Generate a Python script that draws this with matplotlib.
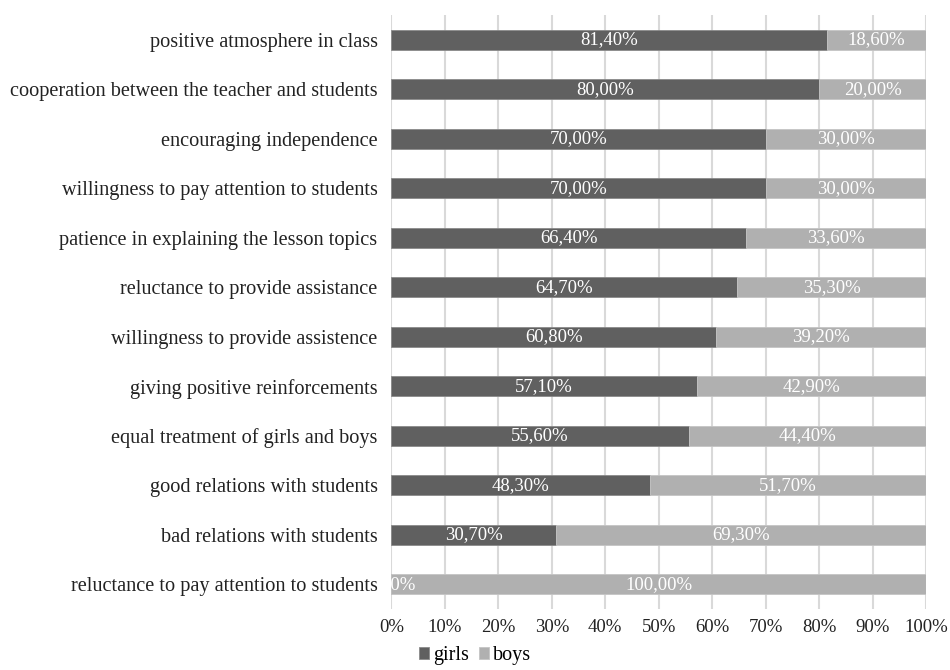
import matplotlib.pyplot as plt
from matplotlib.ticker import FuncFormatter

categories = [
    "positive atmosphere in class",
    "cooperation between the teacher and students",
    "encouraging independence",
    "willingness to pay attention to students",
    "patience in explaining the lesson topics",
    "reluctance to provide assistance",
    "willingness to provide assistence",
    "giving positive reinforcements",
    "equal treatment of girls and boys",
    "good relations with students",
    "bad relations with students",
    "reluctance to pay attention to students",
]
girls = [81.4, 80.0, 70.0, 70.0, 66.4, 64.7, 60.8, 57.1, 55.6, 48.3, 30.7, 0.0]
boys = [18.6, 20.0, 30.0, 30.0, 33.6, 35.3, 39.2, 42.9, 44.4, 51.7, 69.3, 100.0]
ticks = [0, 10, 20, 30, 40, 50, 60, 70, 80, 90, 100]

GIRLS_COLOR = "#606060"
BOYS_COLOR = "#b0b0b0"
FONT = "Liberation Serif"

plt.rcParams["font.family"] = FONT

fig = plt.figure(figsize=(9.5, 6.7), dpi=100)
ax = fig.add_axes([0.412, 0.091, 0.5627, 0.8866])

y = list(range(len(categories)))
ax.barh(y, girls, height=0.4, color=GIRLS_COLOR, edgecolor="#8a8a8a",
        linewidth=0.6, label="girls", zorder=2)
ax.barh(y, boys, left=girls, height=0.4, color=BOYS_COLOR, edgecolor="#c4c4c4",
        linewidth=0.6, label="boys", zorder=2)

def pct(v):
    return f"{v:.2f}%".replace(".", ",")

for i in y:
    ax.text(girls[i] / 2, i, pct(girls[i]), ha="center", va="center",
            color="white", fontsize=13.5, zorder=3, clip_on=True)
    ax.text(girls[i] + boys[i] / 2, i, pct(boys[i]), ha="center", va="center",
            color="white", fontsize=13.5, zorder=3, clip_on=True)

ax.set_xlim(0, 100)
ax.set_ylim(len(categories) - 0.5, -0.5)
ax.set_yticks(y)
ax.set_yticklabels(categories, fontsize=14.6, color="#222222")
ax.set_xticks(ticks)
ax.xaxis.set_major_formatter(FuncFormatter(lambda v, p: f"{int(v)}%"))
ax.tick_params(axis="x", labelsize=13.5, colors="#222222", length=0, pad=7)
ax.tick_params(axis="y", length=0, pad=10)
ax.grid(axis="x", color="#d9d9d9", linewidth=1.5, zorder=0)
for s in ax.spines.values():
    s.set_visible(False)

fig.legend(loc="lower center", bbox_to_anchor=(0.5, -0.02), ncol=2, frameon=False,
           fontsize=14.5, handlelength=0.5, handleheight=0.5, handletextpad=0.2,
           columnspacing=0.5)

fig.savefig("out.png", dpi=100)
